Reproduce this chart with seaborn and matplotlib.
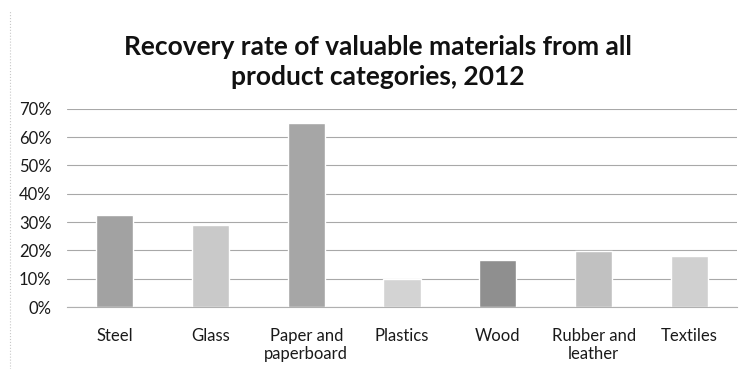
import matplotlib
matplotlib.use("Agg")
import matplotlib.pyplot as plt
import seaborn as sns
import pandas as pd
from matplotlib.ticker import PercentFormatter, FixedLocator

categories = ["Steel", "Glass", "Paper and\npaperboard", "Plastics", "Wood", "Rubber and\nleather", "Textiles"]
values = [0.325, 0.29, 0.65, 0.10, 0.166, 0.198, 0.18]
colors = ["#a2a2a2", "#c9c9c9", "#a6a6a6", "#d3d3d3", "#8f8f8f", "#c1c1c1", "#d0d0d0"]
title = "Recovery rate of valuable materials from all\nproduct categories, 2012"

sns.set_style("white")
plt.rcParams['font.family'] = ['Lato', 'DejaVu Sans']

df = pd.DataFrame({"cat": categories, "val": values})
fig = plt.figure(figsize=(7.41, 3.69), dpi=100)
ax = fig.add_axes([0.09, 0.168, 0.905, 0.537])
sns.barplot(data=df, x="cat", y="val", hue="cat", palette=colors, legend=False,
            width=0.39, ax=ax, saturation=1)
ax.set_ylim(0, 0.7)
ax.set_xlim(-0.5, len(categories) - 0.5)
ax.yaxis.set_major_locator(FixedLocator([i / 10 for i in range(8)]))
ax.yaxis.set_major_formatter(PercentFormatter(1.0, decimals=0))
ax.grid(axis="y", color="#a8a8a8", linewidth=0.8)
ax.set_axisbelow(True)
for s in ["top", "right", "left"]:
    ax.spines[s].set_visible(False)
ax.spines["bottom"].set_color("#b0b0b0")
ax.set_xlabel("")
ax.set_ylabel("")
ax.tick_params(axis="y", length=0, labelsize=12, colors="#1a1a1a", pad=11)
ax.tick_params(axis="x", length=0, labelsize=12, colors="#1a1a1a", pad=15)
ax.set_xticks(range(len(categories)))
ax.set_xticklabels(categories, linespacing=1.15)
ax.set_xticks([i + 0.5 for i in range(len(categories) - 1)], minor=True)
ax.tick_params(axis="x", which="minor", length=4, color="#b0b0b0", direction="out")
fig.text(0.51, 0.832, title, ha="center", va="center", fontsize=19,
         fontweight="bold", linespacing=1.3, color="#111111")
fig.add_artist(plt.Line2D([0.014, 0.014], [0.0, 0.97], color="#c8c8c8", lw=0.8, linestyle=":"))
fig.savefig("out.png", dpi=100)
